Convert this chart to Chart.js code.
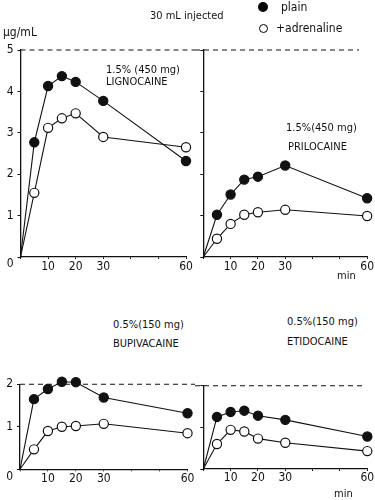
<!DOCTYPE html>
<html>
<head>
<meta charset="utf-8">
<script src="https://cdn.jsdelivr.net/npm/chart.js@4.4.1/dist/chart.umd.min.js"></script>
<style>
  body { margin: 0; background: #fff; }
  #wrap { position: relative; width: 375px; height: 500px; overflow: hidden;
          font-family: 'DejaVu Sans Condensed', 'DejaVu Sans', sans-serif; color: #111; }
  canvas { position: absolute; }
  .t { position: absolute; font-size: 11px; line-height: 12px; white-space: nowrap; }
  .dot { position: absolute; border-radius: 50%; box-sizing: border-box; }
</style>
</head>
<body>
<div id="wrap">
  <canvas id="c1" width="195" height="285" style="left:0;top:0"></canvas>
  <canvas id="c2" width="180" height="285" style="left:195px;top:0"></canvas>
  <canvas id="c3" width="195" height="140" style="left:0;top:360px"></canvas>
  <canvas id="c4" width="180" height="140" style="left:195px;top:360px"></canvas>

  <div class="t" style="left:3px;top:26px;font-size:12px">μg/mL</div>
  <div class="t" style="left:150px;top:10px">30 mL injected</div>

  <!-- legend -->
  <div class="dot" style="left:258px;top:2px;width:10px;height:10px;background:#000"></div>
  <div class="t" style="left:281px;top:1px;font-size:12px">plain</div>
  <div class="dot" style="left:259px;top:24px;width:9px;height:9px;border:1.3px solid #000"></div>
  <div class="t" style="left:276px;top:22px;font-size:12px">+adrenaline</div>

  <!-- panel annotations -->
  <div class="t" style="left:106px;top:64px">1.5% (450 mg)</div>
  <div class="t" style="left:106px;top:76px">LIGNOCAINE</div>
  <div class="t" style="left:286px;top:122px">1.5%(450 mg)</div>
  <div class="t" style="left:288px;top:141px">PRILOCAINE</div>
  <div class="t" style="left:113px;top:319px">0.5%(150 mg)</div>
  <div class="t" style="left:113px;top:338px">BUPIVACAINE</div>
  <div class="t" style="left:287px;top:316px">0.5%(150 mg)</div>
  <div class="t" style="left:287px;top:336px">ETIDOCAINE</div>

  <div class="t" style="left:337px;top:270px">min</div>
  <div class="t" style="left:334px;top:488px">min</div>
</div>

<script>
// Sampling times (min)
const times = [0, 5, 10, 15, 20, 30, 60];
const xTickLabels = [10, 20, 30, 60];

// Plasma concentration (µg/mL)
const lignoPlain = [0, 2.77, 4.13, 4.37, 4.23, 3.77, 2.32];
const lignoAdr   = [0, 1.55, 3.12, 3.35, 3.47, 2.90, 2.65];
const priloPlain = [0, 1.02, 1.51, 1.87, 1.94, 2.21, 1.42];
const priloAdr   = [0, 0.44, 0.80, 1.02, 1.08, 1.14, 0.99];
const bupiPlain  = [0, 1.65, 1.89, 2.06, 2.05, 1.69, 1.32];
const bupiAdr    = [0, 0.47, 0.90, 1.00, 1.02, 1.07, 0.85];
const etidoPlain = [0, 1.25, 1.37, 1.40, 1.28, 1.18, 0.78];
const etidoAdr   = [0, 0.60, 0.94, 0.90, 0.73, 0.63, 0.43];

const ink = '#111';
const tickFont = { family: "'DejaVu Sans Condensed', 'DejaVu Sans', sans-serif", size: 12 };

// dashed reference line at the top of the y range
const dashPlugin = {
    id: 'topDash',
    afterDraw(chart, args, opts) {
        const ctx = chart.ctx;
        const y = chart.scales.y.getPixelForValue(chart.scales.y.max);
        const x1 = opts.from === 'axis' ? chart.chartArea.left : opts.from;
        ctx.save();
        ctx.strokeStyle = ink;
        ctx.lineWidth = 1.1;
        ctx.setLineDash([5, 4]);
        ctx.beginPath();
        ctx.moveTo(x1, y);
        ctx.lineTo(opts.to, y);
        ctx.stroke();
        ctx.restore();
    }
};

function toPoints(vals) {
    return times.map((t, i) => ({ x: t, y: vals[i] }));
}

function makeChart(id, plain, adr, yMax, showY, box) {
    const ctx = document.getElementById(id).getContext('2d');
    const radius = c => (c.dataIndex === 0 ? 0 : 4.6);
    new Chart(ctx, {
        type: 'line',
        data: {
            datasets: [
                {
                    label: '+adrenaline',
                    data: toPoints(adr),
                    borderColor: ink,
                    borderWidth: 1.1,
                    pointBackgroundColor: '#fff',
                    pointBorderColor: ink,
                    pointBorderWidth: 1.2,
                    pointRadius: radius,
                    tension: 0,
                    clip: false
                },
                {
                    label: 'plain',
                    data: toPoints(plain),
                    borderColor: ink,
                    borderWidth: 1.1,
                    pointBackgroundColor: ink,
                    pointBorderColor: ink,
                    pointBorderWidth: 1.2,
                    pointRadius: radius,
                    tension: 0,
                    clip: false
                }
            ]
        },
        options: {
            responsive: false,
            animation: false,
            layout: { padding: { top: box.top, right: box.right, left: 0, bottom: 0 } },
            plugins: {
                legend: { display: false },
                tooltip: { enabled: false },
                topDash: { from: box.dashFrom, to: box.dashTo }
            },
            scales: {
                x: {
                    type: 'linear',
                    min: 0,
                    max: 60,
                    afterFit: s => { s.height = box.xh; },
                    border: { color: ink, width: 1.3 },
                    grid: { drawOnChartArea: false, tickLength: 2, color: ink },
                    ticks: {
                        stepSize: 10,
                        autoSkip: false,
                        maxRotation: 0,
                        padding: box.xpad,
                        color: ink,
                        font: tickFont,
                        callback: v => (xTickLabels.includes(v) ? String(v) : '')
                    }
                },
                y: {
                    min: 0,
                    max: yMax,
                    afterFit: s => { s.width = box.yw; },
                    border: { color: ink, width: 1.3 },
                    grid: { drawOnChartArea: false, tickLength: 3, color: ink },
                    ticks: {
                        display: showY,
                        stepSize: 1,
                        padding: 4,
                        color: ink,
                        font: tickFont,
                        callback: v => (v === 0 ? ['', '0'] : String(v))
                    }
                }
            }
        },
        plugins: [dashPlugin]
    });
}

makeChart('c1', lignoPlain, lignoAdr, 5, true,
    { top: 50, right: 9, yw: 20.5, xh: 28, xpad: 1, dashFrom: 'axis', dashTo: 195 });
makeChart('c2', priloPlain, priloAdr, 5, false,
    { top: 50, right: 7.3, yw: 8.3, xh: 28, xpad: 1, dashFrom: 0, dashTo: 164 });
makeChart('c3', bupiPlain, bupiAdr, 2, true,
    { top: 24.3, right: 7.5, yw: 20, xh: 30.7, xpad: 0, dashFrom: 'axis', dashTo: 195 });
makeChart('c4', etidoPlain, etidoAdr, 2, false,
    { top: 25.7, right: 7.7, yw: 8.3, xh: 31, xpad: 0, dashFrom: 0, dashTo: 168 });
</script>
</body>
</html>
